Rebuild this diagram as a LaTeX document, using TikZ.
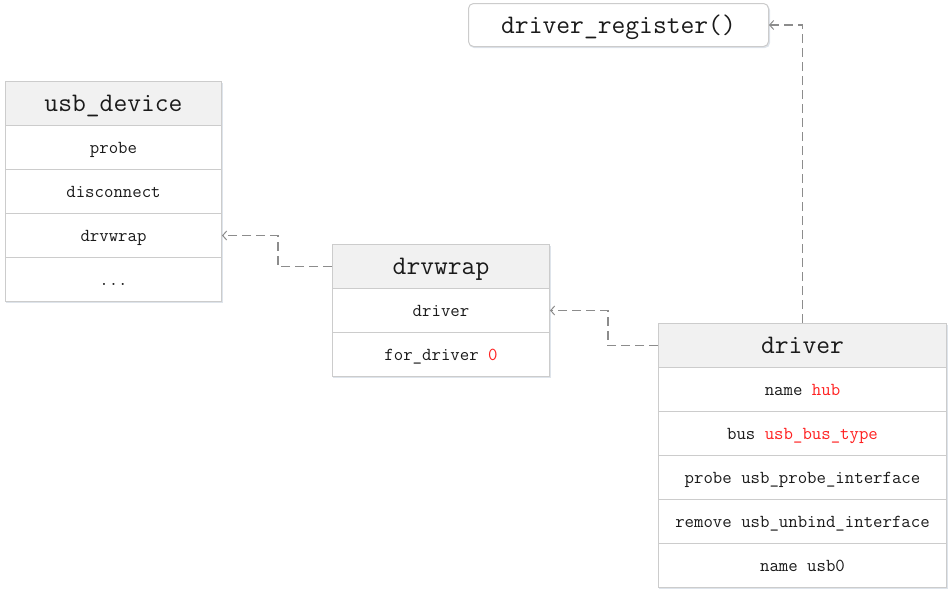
\documentclass[tikz,border=0pt]{standalone}
\usepackage{fontspec}
\usetikzlibrary{arrows.meta}
\definecolor{boxline}{HTML}{CCCCCC}
\definecolor{hdrfill}{HTML}{F1F1F1}
\definecolor{txt}{HTML}{1A1A1A}
\definecolor{redtxt}{HTML}{FF2020}
\definecolor{conncol}{HTML}{8C8C8C}
\definecolor{shadowcol}{HTML}{C8D2DE}
\tikzset{
  box/.style={draw=boxline, line width=1pt, anchor=north west, inner sep=0pt, text=txt, font=\ttfamily\fontsize{18.3}{20}\selectfont, text height=12.5pt, text depth=0pt},
  hdr/.style={box, fill=hdrfill, minimum height=44pt, font=\ttfamily\fontsize{26.8}{30}\selectfont, text height=16pt, text depth=0pt},
  row/.style={box, fill=white, minimum height=44pt},
  shbox/.style={fill=shadowcol, draw=none, opacity=0.6},
  conn/.style={draw=conncol, line width=1.4pt, dash pattern=on 9pt off 5pt, -{Straight Barb[length=4pt,width=9pt,line width=1pt]}},
  regbox/.style={draw=boxline, line width=1pt, rounded corners=5pt, fill=white, anchor=north west, inner sep=0pt, minimum width=300pt, minimum height=43pt, text=txt, font=\ttfamily\fontsize{26.8}{30}\selectfont, text height=16pt, text depth=0pt}
}
\begin{document}
\begin{tikzpicture}[x=1pt,y=-1pt]
\useasboundingbox (0,0) rectangle (952,595);
% shadows
\fill[shbox] (6,83) rectangle (223,303);
\fill[shbox] (333,246) rectangle (551,378);
\fill[shbox] (659,325) rectangle (948,589);
\fill[shbox, rounded corners=5pt] (469,5) rectangle (770,48);
% driver_register
\node[regbox] (reg) at (468,3) {driver\_register()};
% usb_device
\node[hdr, minimum width=216pt] (udh) at (5,81) {usb\_device};
\node[row, minimum width=216pt] (ud1) at (5,125) {probe};
\node[row, minimum width=216pt] (ud2) at (5,169) {disconnect};
\node[row, minimum width=216pt] (ud3) at (5,213) {drvwrap};
\node[row, minimum width=216pt] (ud4) at (5,257) {...};
% drvwrap
\node[hdr, minimum width=217pt] (dwh) at (332,244) {drvwrap};
\node[row, minimum width=217pt] (dw1) at (332,288) {driver};
\node[row, minimum width=217pt] (dw2) at (332,332) {for\_driver \textcolor{redtxt}{0}};
% driver
\node[hdr, minimum width=288pt] (drh) at (658,323) {driver};
\node[row, minimum width=288pt] (dr1) at (658,367) {name \textcolor{redtxt}{hub}};
\node[row, minimum width=288pt] (dr2) at (658,411) {bus \textcolor{redtxt}{usb\_bus\_type}};
\node[row, minimum width=288pt] (dr3) at (658,455) {probe usb\_probe\_interface};
\node[row, minimum width=288pt] (dr4) at (658,499) {remove usb\_unbind\_interface};
\node[row, minimum width=288pt] (dr5) at (658,543) {name usb0};
% connectors
\draw[conn] (drh.north) |- (reg.east);
\draw[conn] (drh.west) -- ++(-50,0) |- (dw1.east);
\draw[conn] (dwh.west) -- ++(-54,0) |- (ud3.east);
\end{tikzpicture}
\end{document}
